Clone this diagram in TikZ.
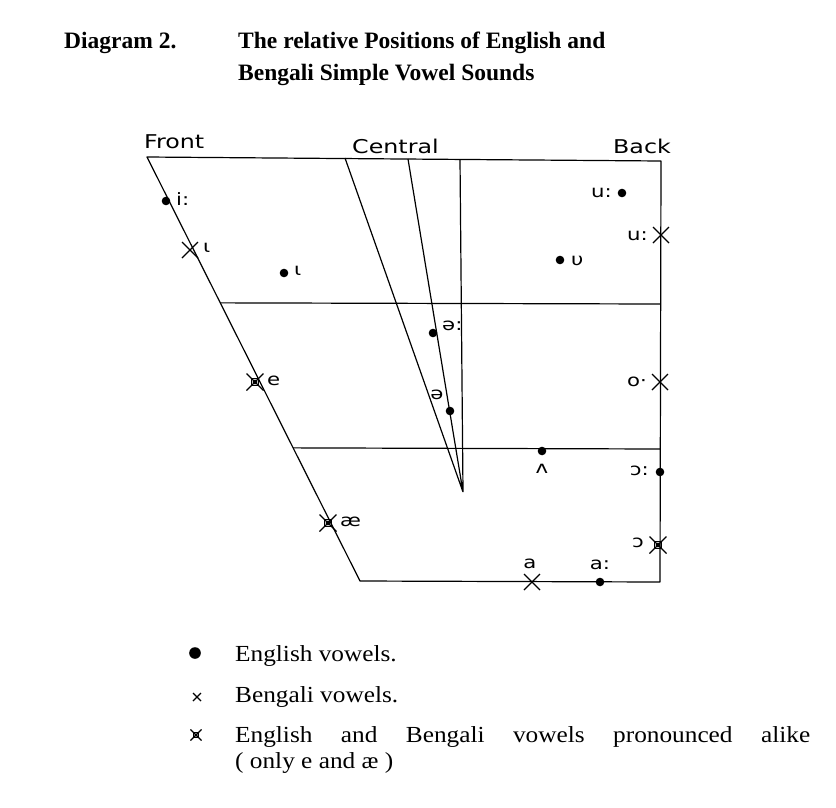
\documentclass[tikz,border=0pt]{standalone}
\usepackage{fontspec}
\setmainfont{Liberation Serif}
\newfontfamily\handfont[FakeStretch=1.25]{DejaVu Sans}
\newfontfamily\keyfont[FakeStretch=1.1]{Liberation Serif}
\usetikzlibrary{calc}

\tikzset{
  chart/.style={line width=1.2pt, line join=round},
  hand/.style={font=\handfont\fontsize{17}{17}\selectfont, inner sep=1pt},
  printed/.style={font=\keyfont\fontsize{23}{25}\selectfont, inner sep=0pt, anchor=base west},
  heading/.style={font=\bfseries\fontsize{23.5}{26}\selectfont, inner sep=0pt, anchor=base west},
  engdot/.pic={\fill (0,0) circle (4.3pt);},
  bncross/.pic={\draw[line width=1.3pt] (-8pt,-8pt) -- (8pt,8pt) (-8pt,8pt) -- (8pt,-8pt);},
  alikemark/.pic={\draw[line width=1.3pt] (-8.5pt,-8.5pt) -- (8.5pt,8.5pt) (-8.5pt,8.5pt) -- (8.5pt,-8.5pt);
    \draw[line width=1pt] (-3.5pt,-3.5pt) rectangle (3.5pt,3.5pt);
    \fill (0,0) circle (2.4pt);}
}

\begin{document}
\begin{tikzpicture}[x=1pt, y=-1pt]
    \useasboundingbox[fill=white] (0,0) rectangle (836,807);

    % Heading
    \node[heading] (diag) at (64,48) {Diagram 2.};
    \node[heading] (title1) at (238,48) {The relative Positions of English and};
    \node[heading] (title2) at (238,80) {Bengali Simple Vowel Sounds};

    % Corners of the vowel chart
    \coordinate (FT) at (147,157);
    \coordinate (BT) at (661,161);
    \coordinate (BB) at (660,582);
    \coordinate (FB) at (360,581);
    % Central lines meet here
    \coordinate (CV) at (463,492);
    \coordinate (CA) at (345,158);
    \coordinate (CB) at (408,159);
    \coordinate (CC) at (460,159);
    % Right ends of the two cross lines
    \coordinate (HAR) at (660,304);
    \coordinate (HBR) at (660,449);

    % Outline and division lines
    \draw[chart] (FT) -- (BT) -- (BB) -- (FB) -- cycle;
    \draw[chart] ($(FT)!0.344!(FB)$) -- (HAR);
    \draw[chart] ($(FT)!0.686!(FB)$) -- (HBR);
    \draw[chart] (CA) -- (CV) (CB) -- (CV) (CC) -- (CV);

    % Handwritten headings
    \node[hand, font=\handfont\fontsize{19}{19}\selectfont, anchor=base west] (front) at (143,148) {Front};
    \node[hand, font=\handfont\fontsize{19}{19}\selectfont, anchor=base west] (central) at (351,153) {Central};
    \node[hand, font=\handfont\fontsize{19}{19}\selectfont, anchor=base west] (back) at (612,153) {Back};

    % English vowels
    \pic at (166,201) {engdot};
    \node[hand, anchor=west] (ii) at (175,199) {i:};
    \pic at (284,273) {engdot};
    \node[hand, anchor=west] (iota) at (293,271) {ι};
    \pic at (560,260) {engdot};
    \node[hand, anchor=west] (ups) at (570,261) {υ};
    \pic at (622,193) {engdot};
    \node[hand, anchor=east] (uu) at (613,193) {u:};
    \pic at (433,333) {engdot};
    \node[hand, anchor=west] (schwal) at (441,326) {ə:};
    \pic at (450,411) {engdot};
    \node[hand] (schwa) at (437,395) {ə};
    \pic at (542,451) {engdot};
    \node[hand] (wedge) at (542,469) {ʌ};
    \pic at (660,472) {engdot};
    \node[hand, anchor=east] (openol) at (650,471) {ɔ:};
    \pic at (600,582) {engdot};
    \node[hand] (aal) at (600,565) {a:};

    % Bengali vowels
    \pic at (190,250) {bncross};
    \node[hand, anchor=west] (iotab) at (202,248) {ι};
    \pic at (661,235) {bncross};
    \node[hand, anchor=east] (uub) at (649,236) {u:};
    \pic at (660,382) {bncross};
    \node[hand, anchor=east] (oob) at (648,382) {o·};
    \pic at (532,582) {bncross};
    \node[hand] (ab) at (530,564) {a};

    % Pronounced alike
    \pic at (255,382) {alikemark};
    \node[hand, anchor=west] (ee) at (266,381) {e};
    \pic at (328,523) {alikemark};
    \node[hand, anchor=west] (ae) at (339,522) {æ};
    \pic at (658,545) {alikemark};
    \node[hand, anchor=east] (openo) at (645,543) {ɔ};

    % Key
    \pic[scale=1.35] at (195,653) {engdot};
    \node[printed] (keyeng) at (235,661) {English vowels.};
    \pic[scale=0.5] at (197,697) {bncross};
    \node[printed] (keybn) at (235,702) {Bengali vowels.};
    \pic[scale=0.65] at (196,735) {alikemark};
    \node[printed] (keyboth) at (235,742) {\makebox[575pt][s]{English and Bengali vowels pronounced alike}};
    \node[printed] (keyonly) at (235,768) {( only e and æ )};
\end{tikzpicture}
\end{document}
